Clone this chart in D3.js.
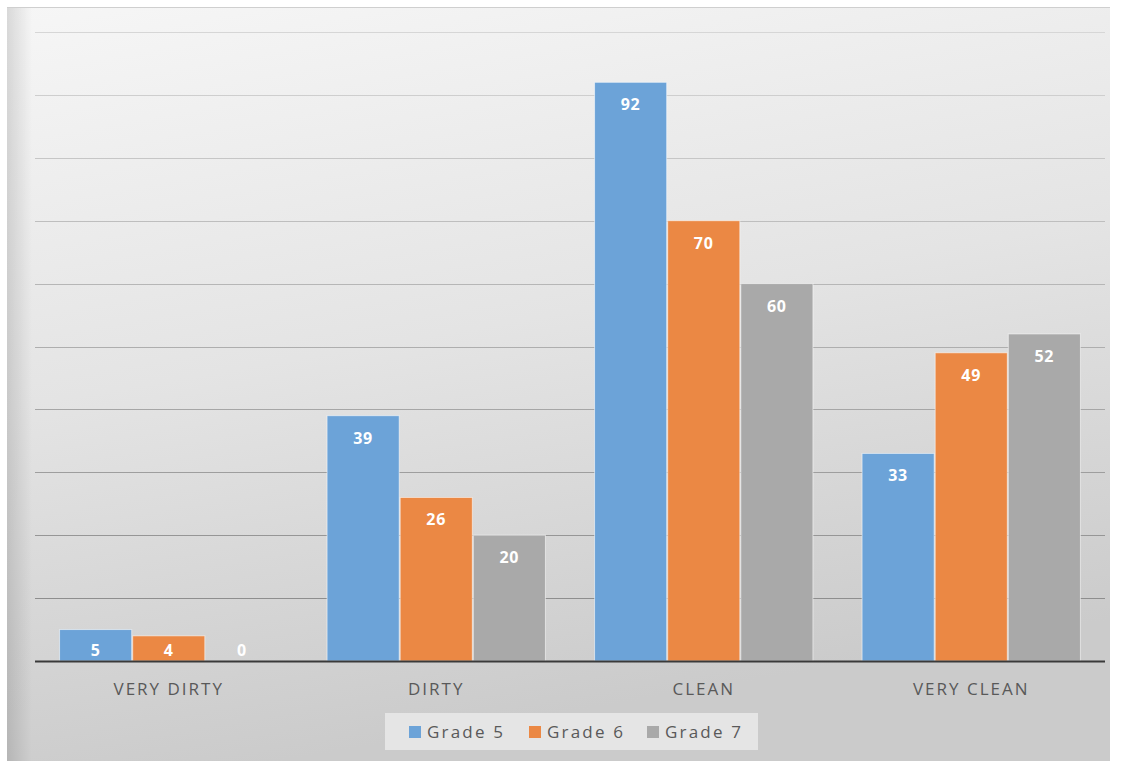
<!DOCTYPE html>
<html><head><meta charset="utf-8">
<script src="https://cdn.jsdelivr.net/npm/d3@7"></script>
<style>body{margin:0;background:#fff}svg{display:block}</style>
</head><body>
<svg id="c" width="1121" height="761"></svg>
<script>
const categories = ["VERY DIRTY", "DIRTY", "CLEAN", "VERY CLEAN"];
const seriesNames = ["Grade 5", "Grade 6", "Grade 7"];
const grade5 = [5, 39, 92, 33];
const grade6 = [4, 26, 70, 49];
const grade7 = [0, 20, 60, 52];
const yTicks = [0, 10, 20, 30, 40, 50, 60, 70, 80, 90, 100];
const colors = ["#6ca3d8", "#eb8844", "#a9a9a9"];
const seriesValues = [grade5, grade6, grade7];

const svg = d3.select("#c");
const defs = svg.append("defs");
const g1 = defs.append("linearGradient").attr("id","bg").attr("x1","0").attr("y1","0").attr("x2","0.25").attr("y2","1");
g1.append("stop").attr("offset","0").attr("stop-color","#f6f6f6");
g1.append("stop").attr("offset","0.5").attr("stop-color","#e4e4e4");
g1.append("stop").attr("offset","1").attr("stop-color","#cbcbcb");
const g2 = defs.append("linearGradient").attr("id","edge").attr("x1","0").attr("y1","0").attr("x2","1").attr("y2","0");
g2.append("stop").attr("offset","0").attr("stop-color","#000").attr("stop-opacity","0.12");
g2.append("stop").attr("offset","1").attr("stop-color","#000").attr("stop-opacity","0");

svg.append("rect").attr("x",7).attr("y",7).attr("width",1103).attr("height",754).attr("fill","url(#bg)");
svg.append("rect").attr("x",7).attr("y",7).attr("width",25).attr("height",754).attr("fill","url(#edge)");
svg.append("line").attr("x1",7).attr("x2",1110).attr("y1",7.5).attr("y2",7.5).attr("stroke","#cfcfcf");

const pLeft = 35, pRight = 1105, pTop = 32, pBottom = 661;
const x0 = d3.scaleBand().domain(categories).range([pLeft, pRight]).paddingInner(0.18).paddingOuter(0.09);
const x1 = d3.scaleBand().domain(seriesNames).range([0, x0.bandwidth()]).padding(0);
const y = d3.scaleLinear().domain([0, 100]).range([pBottom, pTop]);
const gridColor = d3.scaleLinear().domain([100, 10]).range(["#d6d6d6", "#8e8e8e"]);

svg.append("g").selectAll("line").data(yTicks.filter(t => t > 0)).join("line")
  .attr("x1", pLeft).attr("x2", pRight)
  .attr("y1", d => Math.round(y(d)) + 0.5).attr("y2", d => Math.round(y(d)) + 0.5)
  .attr("stroke", d => gridColor(d)).attr("stroke-width", 1);

const groups = svg.append("g").selectAll("g").data(categories).join("g")
  .attr("transform", d => `translate(${x0(d)},0)`);

groups.selectAll("rect").data((c, i) => seriesNames.map((s, j) => ({s, j, v: seriesValues[j][i]}))).join("rect")
  .attr("x", d => x1(d.s) + 0.5).attr("width", x1.bandwidth() - 1)
  .attr("y", d => y(d.v)).attr("height", d => y(0) - y(d.v))
  .attr("fill", d => colors[d.j])
  .attr("stroke", d => d.v > 0 ? "rgba(255,255,255,0.55)" : "none").attr("stroke-width", 1);

groups.selectAll("text").data((c, i) => seriesNames.map((s, j) => ({s, j, v: seriesValues[j][i]}))).join("text")
  .attr("x", d => x1(d.s) + x1.bandwidth() / 2)
  .attr("y", d => Math.min(y(d.v) + 28, y(0) - 5))
  .attr("text-anchor", "middle")
  .attr("font-family", "Open Sans, sans-serif").attr("font-weight", "bold").attr("font-size", 16)
  .attr("letter-spacing", "0.8px")
  .attr("fill", "#fff")
  .text(d => d.v);

svg.append("line").attr("x1", pLeft).attr("x2", pRight).attr("y1", pBottom + 0.5).attr("y2", pBottom + 0.5)
  .attr("stroke", "#3a3a3a").attr("stroke-width", 2);

const xAxis = d3.axisBottom(x0).tickSize(0).tickPadding(0);
const xg = svg.append("g").attr("transform", `translate(0,${pBottom})`).call(xAxis);
xg.select(".domain").remove();
xg.selectAll("text").attr("y", 34).attr("dy", 0)
  .attr("font-family", "Open Sans, sans-serif").attr("font-size", 17).attr("fill", "#595959")
  .attr("letter-spacing", "2px");

// legend
const lg = svg.append("g");
lg.append("rect").attr("x", 385).attr("y", 713).attr("width", 373).attr("height", 37).attr("fill", "#e8e8e8").attr("opacity", 0.9);
const legX = [409, 529, 647];
seriesNames.forEach((s, i) => {
  lg.append("rect").attr("x", legX[i]).attr("y", 726).attr("width", 12).attr("height", 12).attr("fill", colors[i]);
  lg.append("text").attr("x", legX[i] + 18).attr("y", 738)
    .attr("font-family", "Open Sans, sans-serif").attr("font-size", 17).attr("fill", "#595959")
    .attr("letter-spacing", "2.2px")
    .text(s);
});
</script>
</body></html>
